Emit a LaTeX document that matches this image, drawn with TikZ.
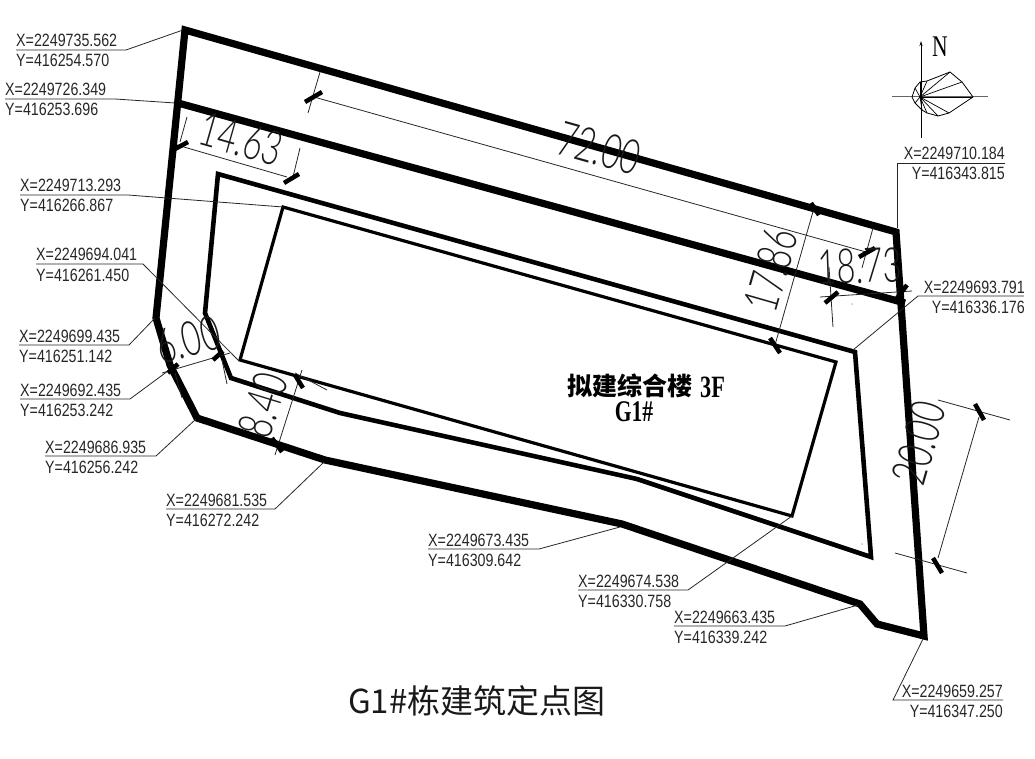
\documentclass[tikz,border=0pt]{standalone}
\usetikzlibrary{arrows.meta}
\usepackage{fontspec}
\setmainfont{Liberation Sans}
\newfontfamily\lblfont[FakeStretch=0.8]{Liberation Sans}
\newfontfamily\dimfont[FakeStretch=0.68]{Lato Light}
\newfontfamily\serfont[FakeStretch=0.72]{Liberation Serif}
\newfontfamily\cjk{Noto Sans CJK SC}
\newcommand{\lblsize}{\fontsize{17.8}{18}\selectfont}
\tikzset{
  outerline/.style={line width=7.2pt,line join=miter},
  setback/.style={line width=4.6pt,line join=miter},
  building/.style={line width=3.2pt,line join=miter},
  thin leader/.style={line width=0.8pt,draw=black!85},
  tickmark/.style={line width=4.5pt},
  dimline/.style={line width=0.8pt,draw=black!85},
  lbl/.style={inner sep=0pt,font=\lblfont\lblsize,text=black!85},
  dimtext/.style={inner sep=0pt,font=\dimfont\fontsize{48}{48}\selectfont,text=black!90},
}
% \leader{name}{x1}{x2}{y}{target x}{target y}{X}{Y}
\newcommand{\leader}[8]{%
  \coordinate (#1a) at (#2,#4);
  \coordinate (#1b) at (#3,#4);
  \coordinate (#1c) at (#5,#6);
  \draw[thin leader] (#1a) -- (#1b) -- (#1c);
  \node[lbl,anchor=base west] (#1x) at (#2,#4-3) {#7};
  \node[lbl,anchor=base west] (#1y) at (#2,#4+17) {#8};
}
\begin{document}
\begin{tikzpicture}[x=1pt,y=-1pt]
\useasboundingbox (0,0) rectangle (1035,759);
% site
\draw[outerline] (185,30) -- (896,232) -- (924,636) -- (877,624) -- (860,604) -- (622,524) -- (325,460) -- (197,418) -- (170,365) -- (156,318) -- cycle;
\draw[outerline] (178,103) -- (905,303);
\draw[setback] (218,174) -- (855,352) -- (871,557) -- (637,479) -- (340,413) -- (231,378) -- (205,313) -- cycle;
\draw[building] (283,207) -- (836,362) -- (792,516) -- (240,360) -- cycle;
% leaders
\leader{a}{16}{126}{50}{183}{30}{X=2249735.562}{Y=416254.570}
\leader{b}{5}{115}{99}{175}{103}{X=2249726.349}{Y=416253.696}
\leader{c}{20}{128}{195}{283}{207}{X=2249713.293}{Y=416266.867}
\leader{d}{36}{143}{264}{238}{360}{X=2249694.041}{Y=416261.450}
\leader{e}{19}{129}{345}{155}{318}{X=2249699.435}{Y=416251.142}
\leader{f}{20}{130}{399}{172}{368}{X=2249692.435}{Y=416253.242}
\leader{g}{45}{156}{456}{196}{419}{X=2249686.935}{Y=416256.242}
\leader{h}{166}{275}{509}{324}{462}{X=2249681.535}{Y=416272.242}
\leader{i}{428}{539}{549}{620}{527}{X=2249673.435}{Y=416309.642}
\leader{j}{578}{688}{590}{792}{516}{X=2249674.538}{Y=416330.758}
\leader{k}{674}{785}{626}{858}{605}{X=2249663.435}{Y=416339.242}
% right aligned labels
\coordinate (la) at (1005,163); \coordinate (lb) at (897,163); \coordinate (lc) at (897,228);
\draw[thin leader] (la) -- (lb) -- (lc);
\node[lbl,anchor=base east] (lx) at (1005,160) {X=2249710.184};
\node[lbl,anchor=base east] (ly) at (1005,180) {Y=416343.815};
\coordinate (ma) at (1024,296); \coordinate (mb) at (918,296); \coordinate (mc) at (853,350);
\draw[thin leader] (ma) -- (mb) -- (mc);
\node[lbl,anchor=base east] (mx) at (1025,293) {X=2249693.791};
\node[lbl,anchor=base east] (my) at (1025,313) {Y=416336.176};
\coordinate (na) at (1003,700); \coordinate (nb) at (893,700); \coordinate (nc) at (923,639);
\draw[thin leader] (na) -- (nb) -- (nc);
\node[lbl,anchor=base east] (nx) at (1003,697) {X=2249659.257};
\node[lbl,anchor=base east] (ny) at (1003,717) {Y=416347.250};
% dim 72.00
\draw[dimline] (320,72) -- (308,113); \draw[dimline] (873,228) -- (862,268);
\draw[dimline] (314,97) -- (866,252);
\draw[tickmark] (305,102) -- (322,92); \draw[tickmark] (859,257) -- (875,248);
\node[dimtext,rotate=-15.8] (d72) at (599,148) {72.00};
% dim 14.63
\draw[dimline] (187,117) -- (180,142); \draw[dimline] (300,148) -- (293,177);
\draw[dimline] (177,145) -- (287,177);
\draw[tickmark] (175,149) -- (188,142); \draw[tickmark] (284,183) -- (299,174);
\node[dimtext,rotate=-15.8] (d14) at (241,139) {14.63};
% dim 17.86
\draw[dimline] (814,208) -- (775,345);
\draw[tickmark] (811,203) -- (819,215); \draw[tickmark] (770,338) -- (780,353);
\node[dimtext,rotate=74] (d17) at (771,270) {17.86};
% dim 18.73
\draw[dimline] (820,297) -- (912,291); \draw[dimline] (829,267) -- (833,327);
\draw[tickmark] (825,303) -- (838,292); \draw[tickmark] (897,298) -- (907,285);
\node[dimtext,rotate=2] (d18) at (860,266) {18.73};
% dim 20.00
\draw[dimline] (938,400) -- (1010,420); \draw[dimline] (895,553) -- (967,573);
\draw[dimline] (979,417) -- (938,558);
\draw[tickmark] (975,404) -- (984,420); \draw[tickmark] (933,558) -- (942,573);
\node[dimtext,rotate=74] (d20) at (919,443) {20.00};
% dim 6.00
\draw[dimline] (162,373) -- (230,353);
\draw[dimline] (175,373) -- (182,398); \draw[dimline] (222,360) -- (227,384);
\draw[tickmark] (168,373) -- (178,364); \draw[tickmark] (213,360) -- (223,351);
\node[dimtext,rotate=15] (d6) at (188,340) {6.00};
% dim 8.40
\draw[dimline] (302,370) -- (275,455); \draw[dimline] (295,373) -- (327,390);
\draw[tickmark] (295,375) -- (303,388); \draw[tickmark] (272,438) -- (282,452);
\node[dimtext,rotate=73] (d8) at (263,405) {8.40};
% specks
\fill (862,544) circle (0.5pt); \fill (852,304) circle (0.5pt);
% north
\draw[line width=1pt,draw=black!60] (892,97) -- (988,97);
\draw[line width=0.9pt,-{Stealth[length=5pt,width=3pt]}] (921,138) -- (921,41);
\draw[line width=0.8pt] (973,97) -- (962,82) -- (950,72) -- (927,81) -- (920,82) -- (915,88) -- (912,97) -- (915,103) -- (922,110) -- (927,113) -- (938,116) -- (949,113) -- cycle;
\foreach \p in {(973,97),(962,82),(950,72),(927,81),(920,82),(915,88),(915,103),(922,110),(927,113),(938,116),(949,113)} \draw[line width=0.7pt] (920,97) -- \p;
\node[inner sep=0pt,font=\serfont\fontsize{30}{30}\selectfont] (north) at (940,47) {N};
% building label
\node[inner sep=0pt,anchor=base west,font=\cjk\bfseries\fontsize{25}{25}\selectfont] (bname) at (567,395) {拟建综合楼};
\node[inner sep=0pt,anchor=base west,font=\serfont\bfseries\fontsize{31}{31}\selectfont] (bfl) at (700,397) {3F};
\node[inner sep=0pt,anchor=base,font=\serfont\bfseries\fontsize{30}{30}\selectfont] (bid) at (634,421) {G1\#};
% title
\node[inner sep=0pt,anchor=base west,text=black!90,font=\cjk\fontsize{33}{33}\selectfont] (title) at (348,713) {G1\#栋建筑定点图};
\end{tikzpicture}
\end{document}
